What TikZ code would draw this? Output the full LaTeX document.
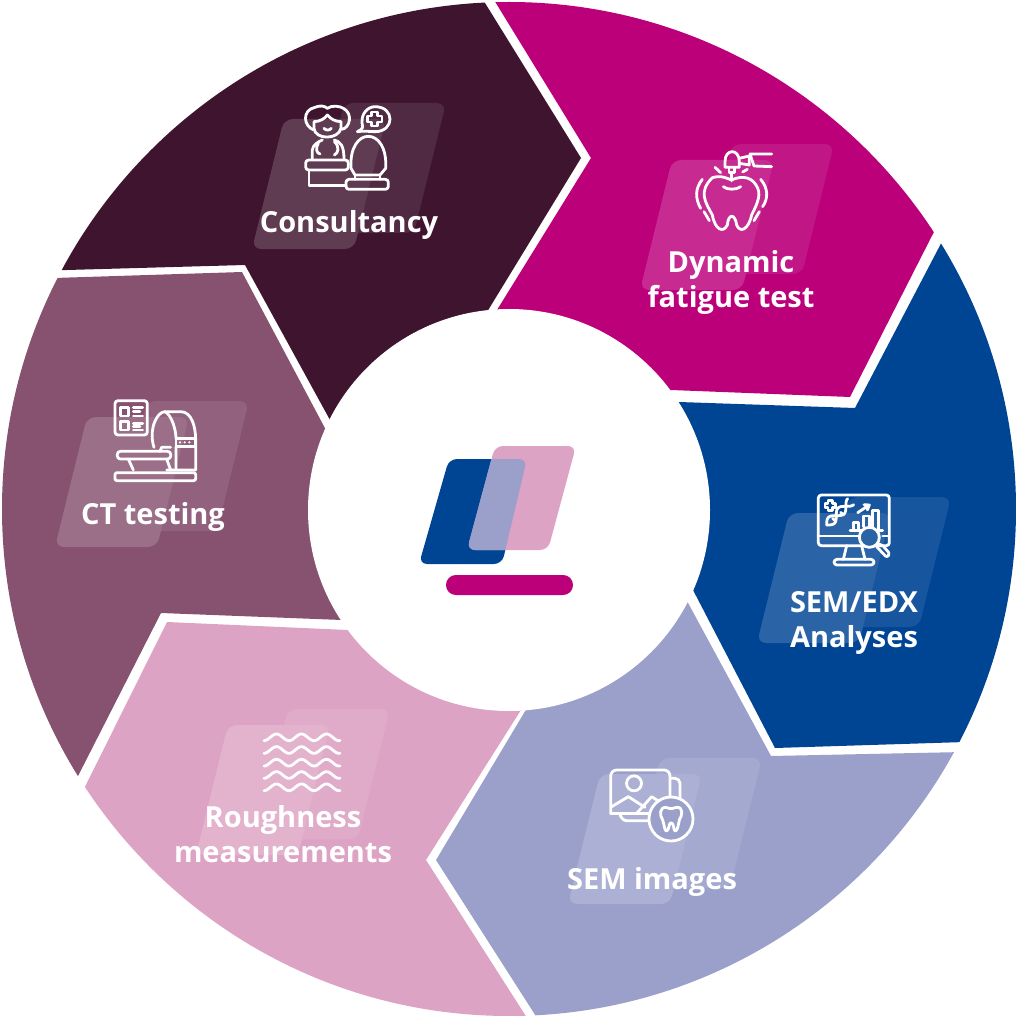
\documentclass[tikz,border=0pt]{standalone}
\usepackage{fontspec}
\setmainfont{Open Sans}
\definecolor{cA}{HTML}{3F142F}
\definecolor{cB}{HTML}{BB007A}
\definecolor{cC}{HTML}{004494}
\definecolor{cD}{HTML}{9BA0CB}
\definecolor{cE}{HTML}{DDA3C4}
\definecolor{cF}{HTML}{875170}
\newcommand\cardpair[3]{%
  \fill[white!9!#3,rounded corners=9pt] ({#1+60},{#2-16}) -- ({#1+162},{#2-16}) -- ({#1+194},{#2-146}) -- ({#1+92},{#2-146}) -- cycle;
  \fill[white!17!#3,rounded corners=9pt] (#1,#2) -- ({#1+102},#2) -- ({#1+134},{#2-130}) -- ({#1+32},{#2-130}) -- cycle;}
\newcommand\segment[2]{\begin{scope}\clip #2 -- cycle;\fill[#1] (509,509) circle[radius=507pt];\end{scope}}
\tikzset{
  lab/.style={text=white,font=\fontsize{29}{35}\selectfont\bfseries,align=center,inner sep=0pt},
  icon/.style={draw=white,line width=2.8pt,line cap=round,line join=round},
  zoomed/.style={x=.33333pt,y=-.33333pt}
}
\begin{document}
\begin{tikzpicture}[x=1pt,y=-1pt]
\useasboundingbox (0,0) rectangle (1016,1016);
\segment{cA}{(245,265) -- (-40,273) -- (-40,-40) -- (472,-18) -- (581,158) -- (487,312) -- (509,510) -- (330,420)}
\segment{cB}{(497,310) -- (591,158) -- (483,-18) -- (1040,-40) -- (1001,100) -- (850,397) -- (671,390) -- (509,510)}
\segment{cC}{(679,402) -- (855,408) -- (1016,100) -- (1060,100) -- (1060,739) -- (775,748) -- (693,590) -- (509,510)}
\segment{cD}{(771,756) -- (1060,750) -- (1060,1060) -- (564,1060) -- (436,860) -- (527,708) -- (509,510) -- (687,601)}
\segment{cE}{(554,1060) -- (-51,1060) -- (167,622) -- (348,630) -- (509,510) -- (521,710) -- (426,860)}
\segment{cF}{(242,272) -- (-40,281) -- (-60,1000) -- (-36,1000) -- (161,613) -- (342,620) -- (509,510) -- (327,432)}
\fill[white] (509,510) circle[radius=201pt];
% logo
\fill[cC,rounded corners=8pt] (449,459) -- (527,459) -- (502,564) -- (419,564) -- cycle;
\fill[cE,rounded corners=8pt] (495,446) -- (576,446) -- (548,550) -- (467,550) -- cycle;
\begin{scope}
\clip[rounded corners=8pt] (449,459) -- (527,459) -- (502,564) -- (419,564) -- cycle;
\fill[cD,rounded corners=8pt] (495,446) -- (576,446) -- (548,550) -- (467,550) -- cycle;
\end{scope}
\fill[cB,rounded corners=9.9pt] (446,575) rectangle (573,595);
% cards
\cardpair{252}{249}{cA}
\cardpair{640}{290}{cB}
\cardpair{757}{643}{cC}
\cardpair{568}{904}{cD}
\cardpair{196}{855}{cE}
\cardpair{55}{547}{cF}
% labels
\node[lab] (consult) at (349,225) {Consultancy};
\node[lab] (dyn) at (731,282) {Dynamic\\fatigue test};
\node[lab] (edx) at (854,623) {SEM/EDX\\Analyses};
\node[lab] (img) at (652,882) {SEM images};
\node[lab] (rough) at (283,834) {Roughness\\measurements};
\node[lab] (ct) at (153,517) {CT testing};
% consultancy icon
\begin{scope}[shift={(240,90)},zoomed,icon]
\draw (222,120) .. controls (190,110) and (185,60) .. (225,52) .. controls (240,45) and (255,48) .. (262,55) .. controls (275,45) and (300,48) .. (310,55) .. controls (340,70) and (330,115) .. (305,118);
\draw (222,95) -- (222,115) .. controls (225,150) and (295,150) .. (303,115) -- (303,95) .. controls (285,95) and (270,85) .. (262,75) .. controls (255,85) and (240,95) .. (222,95);
\draw (252,115) .. controls (258,122) and (268,122) .. (274,115);
\draw (217,207) -- (217,180) .. controls (218,165) and (235,155) .. (247,150);
\draw (283,150) .. controls (300,155) and (312,165) .. (312,207);
\draw (235,160) .. controls (225,175) and (230,190) .. (240,192) (283,155) .. controls (300,170) and (295,190) .. (283,195);
\draw[rounded corners=3pt] (197,210) rectangle (325,240);
\draw (207,240) -- (207,287) -- (318,287);
\draw (345,255) -- (333,235) .. controls (325,107) and (445,107) .. (437,235) -- (420,255) -- cycle;
\draw (345,255) -- (345,268) (420,255) -- (420,268);
\draw[rounded corners=3pt] (318,268) rectangle (445,298);
\draw (368,112) .. controls (358,70) and (385,50) .. (405,50) .. controls (465,50) and (465,125) .. (405,125) .. controls (390,125) and (375,122) .. (352,125) .. controls (360,122) and (365,118) .. (368,112);
\draw (395,66) -- (413,66) -- (413,78) -- (426,78) -- (426,96) -- (413,96) -- (413,108) -- (395,108) -- (395,96) -- (383,96) -- (383,78) -- (395,78) -- cycle;
\end{scope}
% dynamic icon
\begin{scope}[shift={(630,130)},zoomed,icon]
\draw (285,95) .. controls (285,55) and (328,55) .. (328,95) -- (328,112) -- (285,112) -- cycle;
\draw (328,85) -- (358,78) -- (358,105) -- (328,100);
\draw (425,72) -- (360,72) -- (372,108) -- (425,110);
\draw (297,112) -- (297,128) -- (313,128) -- (313,112) (305,128) -- (305,152);
\draw (247,143) .. controls (275,135) and (290,145) .. (305,150) .. controls (325,140) and (360,135) .. (378,165) .. controls (395,190) and (385,215) .. (365,255) .. controls (355,300) and (330,310) .. (320,285) .. controls (315,250) and (295,250) .. (292,285) .. controls (280,310) and (255,300) .. (247,255) .. controls (225,215) and (205,185) .. (247,143);
\draw (280,170) .. controls (290,180) and (320,180) .. (332,170);
\draw (217,148) .. controls (195,175) and (195,205) .. (212,235) (222,245) -- (238,272);
\draw (392,148) .. controls (415,175) and (415,205) .. (398,230) (388,245) -- (372,272);
\draw (255,112) -- (272,128) (352,118) -- (338,126);
\end{scope}
% SEM/EDX icon
\begin{scope}[shift={(750,480)},zoomed,icon]
\draw[rounded corners=3pt] (205,45) rectangle (418,197);
\draw (205,168) -- (330,168) (398,168) -- (418,168);
\draw (290,197) -- (280,238) (335,197) -- (345,238);
\draw[rounded corners=3pt] (252,238) rectangle (372,255);
\fill[white!17!cC] (358,172) circle[radius=10pt];
\draw (358,172) circle[radius=10pt];
\draw[rounded corners=2pt] (385,193) -- (395,193) -- (420,222) -- (410,232) -- (380,200);
\draw (234,62) -- (247,62) -- (247,70) -- (257,70) -- (257,82) -- (247,82) -- (247,92) -- (234,92) -- (234,82) -- (225,82) -- (225,70) -- (234,70) -- cycle;
\draw plot[domain=0:1,samples=30,smooth] ({230+72*\x+9*sin(450*\x)},{135-70*\x+9*sin(450*\x)});
\draw plot[domain=0:1,samples=30,smooth] ({230+72*\x-9*sin(450*\x)},{135-70*\x-9*sin(450*\x)});
\draw (248,115) -- (256,123) (272,97) -- (280,105);
\draw (310,150) -- (310,128) -- (325,128) -- (325,150);
\draw (340,140) -- (340,108) -- (358,108) -- (358,142);
\draw (368,140) -- (368,92) -- (385,92) -- (385,150);
\draw (300,152) -- (335,152) (385,152) -- (398,152);
\draw (323,98) -- (358,75) (342,74) -- (358,75) -- (352,90);
\end{scope}
% SEM images icon
\begin{scope}[shift={(560,750)},zoomed,icon]
\draw[rounded corners=5pt] (335,85) -- (360,85) -- (360,145);
\draw[rounded corners=3pt] (180,195) -- (190,212) -- (275,212);
\draw[rounded corners=6pt] (152,190) -- (152,60) -- (330,60) -- (330,150);
\draw[rounded corners=6pt] (152,190) -- (270,190);
\draw (222,100) circle[radius=7.5pt];
\draw (155,170) -- (205,140) -- (255,172) (230,190) -- (275,140) -- (298,155);
\fill[cD] (333,207) circle[radius=22pt];
\draw (333,207) circle[radius=22pt];
\draw (318,172) .. controls (332,178) and (340,176) .. (350,172) .. controls (370,170) and (368,195) .. (358,210) .. controls (355,225) and (352,245) .. (345,243) .. controls (340,240) and (342,218) .. (333,218) .. controls (326,218) and (328,240) .. (320,243) .. controls (314,245) and (313,225) .. (308,210) .. controls (298,195) and (298,172) .. (318,172);
\end{scope}
% roughness icon
\begin{scope}[shift={(190,700)},zoomed,icon]
\foreach \yy in {112,150,188,225,262}
  \draw plot[domain=222:450,samples=61,smooth] (\x,{\yy+10*cos((\x-222)*4.8)});
\end{scope}
% CT icon
\begin{scope}[shift={(50,390)},zoomed,icon]
\draw[rounded corners=3pt] (195,32) rectangle (292,135);
\draw (212,52) rectangle (235,78) (212,95) rectangle (235,120);
\draw (250,52) -- (278,52) (250,65) -- (270,65) (250,78) -- (278,78);
\draw (250,100) -- (278,100) (250,110) -- (270,110) (250,120) -- (278,120);
\draw (312,172) .. controls (295,120) and (320,65) .. (345,65) -- (392,65) .. controls (425,65) and (437,110) .. (437,150) -- (437,240) -- (350,240);
\draw (345,65) .. controls (365,75) and (378,120) .. (378,145) (378,170) -- (378,240);
\draw (378,145) rectangle (437,170);
\fill[white] (390,157) circle[radius=1.2pt] (404,157) circle[radius=1.2pt] (418,157) circle[radius=1.2pt];
\draw[rounded corners=3pt] (202,184) rectangle (362,207);
\draw (330,184) -- (335,172) -- (362,172);
\draw (235,207) -- (250,240) (350,207) -- (362,240);
\draw[rounded corners=2pt] (195,248) rectangle (437,272);
\end{scope}
\end{tikzpicture}
\end{document}
